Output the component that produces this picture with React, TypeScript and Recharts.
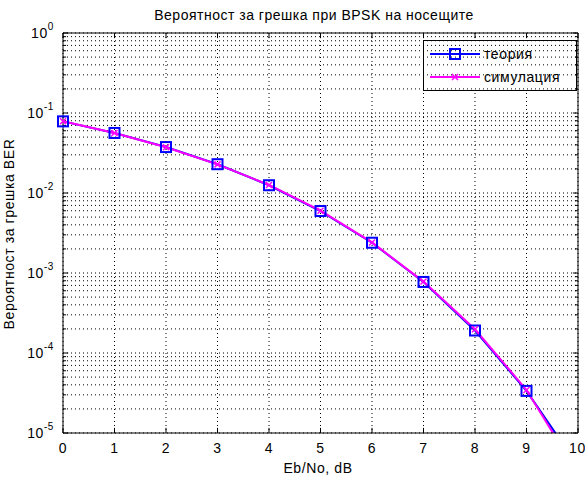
import {
  CartesianGrid,
  Line,
  LineChart,
  ReferenceLine,
  XAxis,
  YAxis,
} from 'recharts';

const ebno = [0, 1, 2, 3, 4, 5, 6, 7, 8, 9, 10];
const theory = [0.0786, 0.0563, 0.0375, 0.0229, 0.0125, 0.00595, 0.00239, 0.000773, 0.000191, 0.0000336, 0.00000387];
const simulation = [0.0788, 0.0561, 0.0373, 0.0228, 0.0126, 0.00601, 0.00241, 0.000781, 0.000198, 0.0000345, 0.0000031];

const xTicks = [0, 1, 2, 3, 4, 5, 6, 7, 8, 9, 10];
const yTicks = [1e-5, 1e-4, 1e-3, 1e-2, 1e-1, 1];
const yExponents = ['-5', '-4', '-3', '-2', '-1', '0'];
const minorFactors = [2, 3, 4, 5, 6, 7, 8, 9];
const seriesNames = ['теория', 'симулация'];

const data = ebno.map((x, i) => ({ x, theory: theory[i], sim: simulation[i] }));

const minorTicks: number[] = [];
yTicks.slice(0, -1).forEach((d) => minorFactors.forEach((k) => minorTicks.push(k * d)));

const font = 'Liberation Sans, Arial, sans-serif';
const gridDash = '1 3';
const gridColor = '#000';
const txt = { fontFamily: font, fontSize: 14, letterSpacing: 0.6, fill: '#000' };

function YTick({ x, y, index }: any) {
  return (
    <text x={x - 1} y={y + 5} textAnchor="end" {...txt}>
      10
      <tspan dy={-8} fontSize={10}>{yExponents[index]}</tspan>
    </text>
  );
}

function Square({ cx, cy }: any) {
  if (cx == null || cy == null || cy > 433) return null;
  return <rect x={cx - 5} y={cy - 5} width={10} height={10} fill="none" stroke="#0000ff" strokeWidth={2} />;
}

function Cross({ cx, cy }: any) {
  if (cx == null || cy == null || cy > 433) return null;
  return (
    <g stroke="#ff00ff" strokeWidth={1.5}>
      <line x1={cx - 3} y1={cy - 3} x2={cx + 3} y2={cy + 3} />
      <line x1={cx - 3} y1={cy + 3} x2={cx + 3} y2={cy - 3} />
    </g>
  );
}

function LegendBox({ x, y }: { x: number; y: number }) {
  return (
    <g transform={`translate(${x} ${y})`}>
      <rect x={0.5} y={0.5} width={153} height={50} fill="#fff" stroke="#000" />
      <line x1={7} y1={14} x2={57} y2={14} stroke="#0000ff" strokeWidth={2} />
      <rect x={27} y={9} width={10} height={10} fill="none" stroke="#0000ff" strokeWidth={2} />
      <text x={61} y={19} {...txt}>{seriesNames[0]}</text>
      <line x1={7} y1={37} x2={57} y2={37} stroke="#ff00ff" strokeWidth={2} />
      <g stroke="#ff00ff" strokeWidth={1.5}>
        <line x1={29} y1={34} x2={35} y2={40} />
        <line x1={29} y1={40} x2={35} y2={34} />
      </g>
      <text x={61} y={42} {...txt}>{seriesNames[1]}</text>
    </g>
  );
}

export default function App() {
  return (
    <div style={{ position: 'absolute', left: 0, top: 0, width: 585, height: 477, background: '#fff' }}>
      <LineChart width={585} height={477} data={data} margin={{ top: 33, right: 7, left: 0, bottom: 0 }}>
        <CartesianGrid stroke={gridColor} strokeDasharray={gridDash} fill="#fff" />
        <XAxis
          dataKey="x"
          type="number"
          domain={[0, 10]}
          ticks={xTicks}
          height={44}
          tickLine={false}
          axisLine={{ stroke: '#000' }}
          tick={txt}
          tickMargin={4}
        />
        <YAxis
          type="number"
          scale="log"
          domain={[1e-5, 1]}
          ticks={yTicks}
          allowDataOverflow
          width={63}
          tickLine={false}
          axisLine={{ stroke: '#000' }}
          tick={<YTick />}
        />
        {minorTicks.map((v) => (
          <ReferenceLine key={`m${v}`} y={v} stroke={gridColor} strokeDasharray={gridDash} />
        ))}
        {minorTicks.map((v) => (
          <ReferenceLine key={`ml${v}`} segment={[{ x: 0, y: v }, { x: 0.06, y: v }]} stroke="#000" />
        ))}
        {minorTicks.map((v) => (
          <ReferenceLine key={`mr${v}`} segment={[{ x: 9.94, y: v }, { x: 10, y: v }]} stroke="#000" />
        ))}
        {yTicks.map((v) => (
          <ReferenceLine key={`jl${v}`} segment={[{ x: 0, y: v }, { x: 0.1, y: v }]} stroke="#000" />
        ))}
        {yTicks.map((v) => (
          <ReferenceLine key={`jr${v}`} segment={[{ x: 9.9, y: v }, { x: 10, y: v }]} stroke="#000" />
        ))}
        {xTicks.map((v) => (
          <ReferenceLine key={`xb${v}`} segment={[{ x: v, y: 1e-5 }, { x: v, y: 1.16e-5 }]} stroke="#000" />
        ))}
        {xTicks.map((v) => (
          <ReferenceLine key={`xt${v}`} segment={[{ x: v, y: 0.862 }, { x: v, y: 1 }]} stroke="#000" />
        ))}
        <ReferenceLine y={1} stroke="#000" />
        <ReferenceLine x={10} stroke="#000" />
        <Line
          dataKey="theory"
          name={seriesNames[0]}
          stroke="#0000ff"
          strokeWidth={2}
          dot={<Square />}
          isAnimationActive={false}
        />
        <Line
          dataKey="sim"
          name={seriesNames[1]}
          stroke="#ff00ff"
          strokeWidth={2}
          dot={<Cross />}
          isAnimationActive={false}
        />
        <LegendBox x={423} y={40} />
        <text x={314} y={20} textAnchor="middle" {...txt} letterSpacing={0.5}>
          Вероятност за грешка при BPSK на носещите
        </text>
        <text x={14} y={234} textAnchor="middle" {...txt} transform="rotate(-90 14 234)">
          Вероятност за грешка BER
        </text>
        <text x={318} y={473} textAnchor="middle" {...txt}>
          Eb/No, dB
        </text>
      </LineChart>
    </div>
  );
}
